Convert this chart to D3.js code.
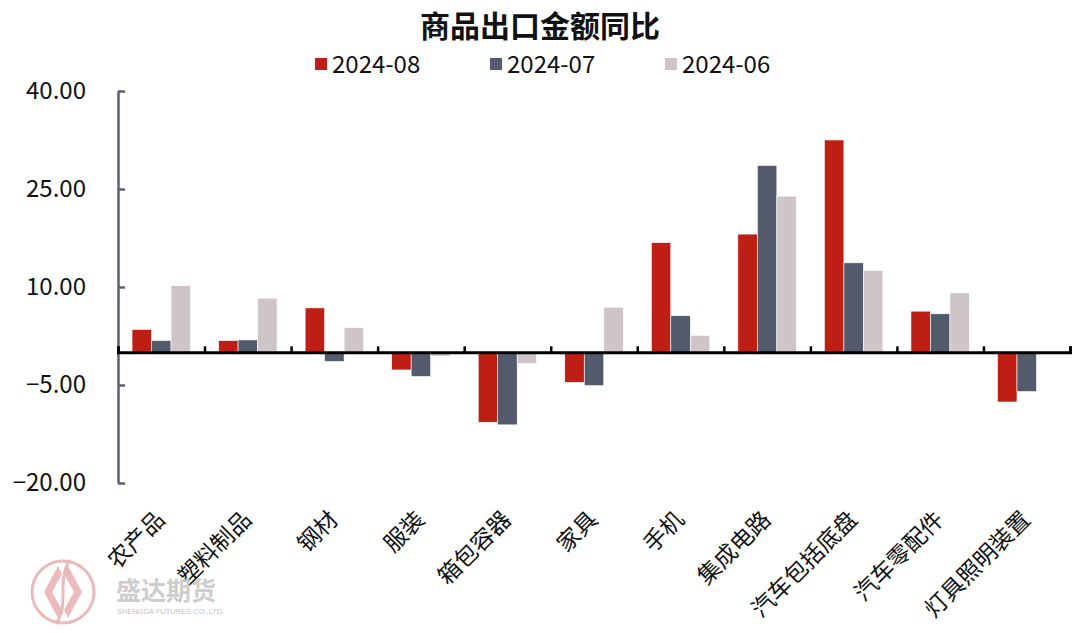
<!DOCTYPE html>
<html>
<head>
<meta charset="utf-8">
<script src="https://cdn.jsdelivr.net/npm/d3@7/dist/d3.min.js"></script>
<style>
  html, body { margin: 0; padding: 0; background: #fff; }
  svg { display: block; }
</style>
</head>
<body>
<svg id="chart" width="1080" height="633"></svg>
<script>
const categories = ["农产品", "塑料制品", "钢材", "服装", "箱包容器", "家具", "手机", "集成电路", "汽车包括底盘", "汽车零配件", "灯具照明装置"];
const seriesNames = ["2024-08", "2024-07", "2024-06"];
const values202408 = [3.5, 1.8, 6.8, -2.7, -10.7, -4.6, 16.8, 18.1, 32.5, 6.3, -7.6];
const values202407 = [1.8, 1.9, -1.4, -3.7, -11.1, -5.1, 5.6, 28.6, 13.7, 5.9, -6.0];
const values202406 = [10.2, 8.3, 3.8, -0.6, -1.7, 6.9, 2.6, 23.9, 12.5, 9.1, null];
const yTicks = [40, 25, 10, -5, -20];
const titleText = "商品出口金额同比";

const colors = ["#BE1E14", "#535A6B", "#CFC5C8"];
const seriesValues = [values202408, values202407, values202406];

const svg = d3.select("#chart");
const FONT = "'Noto Sans CJK SC', 'Noto Sans', sans-serif";

const x = d3.scaleBand().domain(categories).range([118, 1070]).paddingInner(0).paddingOuter(0);
const x1 = d3.scaleBand().domain(seriesNames).range([0, x.bandwidth()]).paddingInner(0).paddingOuter(0.72);
const y = d3.scaleLinear().domain([-20, 40]).range([483, 91]);

// Title
svg.append("text")
  .attr("x", 540).attr("y", 37)
  .attr("text-anchor", "middle")
  .attr("font-family", FONT)
  .attr("font-size", 30)
  .attr("font-weight", "bold")
  .attr("fill", "#111")
  .text(titleText);

// Legend
const legendX = d3.scalePoint().domain(seriesNames).range([315, 665]);
const lg = svg.append("g");
seriesNames.forEach((s, i) => {
  const g = lg.append("g").attr("transform", `translate(${legendX(s)},0)`);
  g.append("rect").attr("x", 0).attr("y", 58).attr("width", 12).attr("height", 12).attr("fill", colors[i]);
  g.append("text").attr("x", 17).attr("y", 73)
    .attr("font-family", FONT).attr("font-size", 24).attr("fill", "#111").text(s);
});

// Bars
const bars = svg.append("g");
seriesNames.forEach((s, i) => {
  bars.selectAll(null)
    .data(categories.map((c, j) => ({ c, v: seriesValues[i][j] })).filter(d => d.v !== null))
    .enter().append("rect")
    .attr("x", d => x(d.c) + x1(s))
    .attr("width", x1.bandwidth())
    .attr("y", d => y(Math.max(0, d.v)))
    .attr("height", d => Math.abs(y(d.v) - y(0)))
    .attr("fill", colors[i])
    .attr("stroke", "#fff")
    .attr("stroke-width", 0.6);
});

// Y axis
const yAxis = d3.axisLeft(y).tickValues(yTicks).tickSizeInner(-7).tickSizeOuter(0).tickPadding(32)
  .tickFormat(d3.format(".2f"));
const yg = svg.append("g").attr("transform", "translate(118,0)").call(yAxis);
yg.select(".domain").attr("stroke", "#5A6070").attr("stroke-width", 2.5);
yg.selectAll(".tick line").attr("stroke", "#5A6070").attr("stroke-width", 2.5);
yg.selectAll(".tick text").attr("font-family", FONT).attr("font-size", 24).attr("fill", "#111");

// X axis (category boundaries)
const xb = d3.scaleLinear().domain([0, categories.length]).range(x.range());
const xAxis = d3.axisBottom(xb).tickValues(d3.range(0, categories.length + 1)).tickSizeInner(-6).tickSizeOuter(-6).tickFormat("");
const xg = svg.append("g").attr("transform", `translate(0,${y(0)})`).call(xAxis);
xg.select(".domain").attr("stroke", "#000").attr("stroke-width", 3);
xg.selectAll(".tick line").attr("stroke", "#000").attr("stroke-width", 2.5);

// Category labels
svg.append("g").selectAll("text")
  .data(categories).enter().append("text")
  .attr("transform", d => `translate(${x(d) + x.bandwidth() / 2 - 2},${514}) rotate(-45)`)
  .attr("text-anchor", "end")
  .attr("dominant-baseline", "central")
  .attr("font-family", FONT)
  .attr("font-size", 23)
  .attr("fill", "#111")
  .text(d => d);

// Watermark
const wm = svg.append("g").attr("opacity", 0.9);
wm.append("circle").attr("cx", 63).attr("cy", 592).attr("r", 31)
  .attr("fill", "none").attr("stroke", "#EBB3B3").attr("stroke-width", 3);
wm.append("path")
  .attr("d", "M58,566 L44,592 L58,618 L62,610 L52,592 L62,574 Z M68,566 L82,592 L68,618 L64,610 L74,592 L64,574 Z")
  .attr("fill", "#EBB3B3");
wm.append("path").attr("d", "M70,560 C56,580 70,604 56,624").attr("fill", "none").attr("stroke", "#EBB3B3").attr("stroke-width", 3);
wm.append("text").attr("x", 116).attr("y", 600)
  .attr("font-family", FONT).attr("font-size", 25).attr("font-weight", "bold")
  .attr("fill", "#C8C8C8").text("盛达期货");
wm.append("text").attr("x", 117).attr("y", 614)
  .attr("font-family", "'Liberation Sans', sans-serif").attr("font-size", 7.5)
  .attr("fill", "#BBBBBB").text("SHENGDA FUTURES CO.,LTD.");
</script>
</body>
</html>
